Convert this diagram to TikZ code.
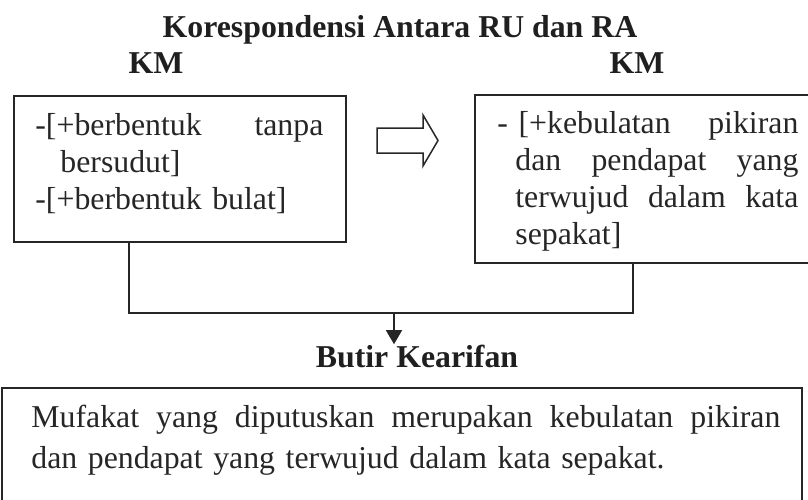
\documentclass[tikz,border=0pt]{standalone}
\usepackage{fontspec}
\setmainfont{Liberation Serif}
\usetikzlibrary{arrows.meta}
\begin{document}
\begin{tikzpicture}[x=0.5pt, y=-0.5pt, font=\fontsize{15.9}{18.5}\selectfont, line join=miter, >={Triangle[width=8pt,length=7pt]}]
	\tikzset{kotak/.style={draw=black!85, line width=0.75pt},
		judul/.style={font=\fontsize{15.9}{18.5}\selectfont\bfseries, text=black!88, inner sep=0pt, anchor=base},
		isi/.style={text=black!85, inner sep=0pt, anchor=base west, align=left}}
	\useasboundingbox (0,0) rectangle (808,499);
	\coordinate (A1) at (14,96);
	\coordinate (A2) at (346,242);
	\coordinate (B1) at (475,95);
	\coordinate (B2) at (818,263);
	\coordinate (C1) at (2,388);
	\coordinate (C2) at (802,530);
	\coordinate (P) at (129,242);
	\coordinate (Q) at (633,263);
	\coordinate (M) at (394,313);
	% judul
	\node[judul] (judul) at (400,37) {Korespondensi Antara RU dan RA};
	\node[judul] (kmKiri) at (156,73) {KM};
	\node[judul] (kmKanan) at (637,73) {KM};
	% kotak
	\draw[kotak] (A1) rectangle (A2);
	\draw[kotak] (B1) rectangle (B2);
	\draw[kotak] (C1) rectangle (C2);
	\node[isi, text width=144pt] (isiKiri) at (35,135) {-[+berbentuk\hfill tanpa\\
		\hspace*{12.5pt}bersudut]\\
		-[+berbentuk bulat]};
	\node[isi, text width=150.5pt] (isiKanan) at (497,133) {- [+kebulatan\hfill pikiran\\
		\hspace*{9pt}dan\hfill pendapat\hfill yang\\
		\hspace*{9pt}terwujud\hfill dalam\hfill kata\\
		\hspace*{9pt}sepakat]};
	% panah
	\draw[kotak] (377,128) -- (423,128) -- (423,115) -- (438,140.5) -- (423,166) -- (423,153) -- (377,153) -- cycle;
	\node[judul] (butir) at (417,367) {Butir Kearifan};
	\draw[kotak] (P) |- (M) -| (Q);
	\draw[kotak, ->] (M) -- (butir.north -| M);
	\node[isi, text width=374.5pt] (isiBawah) at (31,427) {Mufakat\hfill yang\hfill diputuskan\hfill merupakan\hfill kebulatan\hfill pikiran\\[2pt]
		dan pendapat yang terwujud dalam kata sepakat.};
\end{tikzpicture}
\end{document}
